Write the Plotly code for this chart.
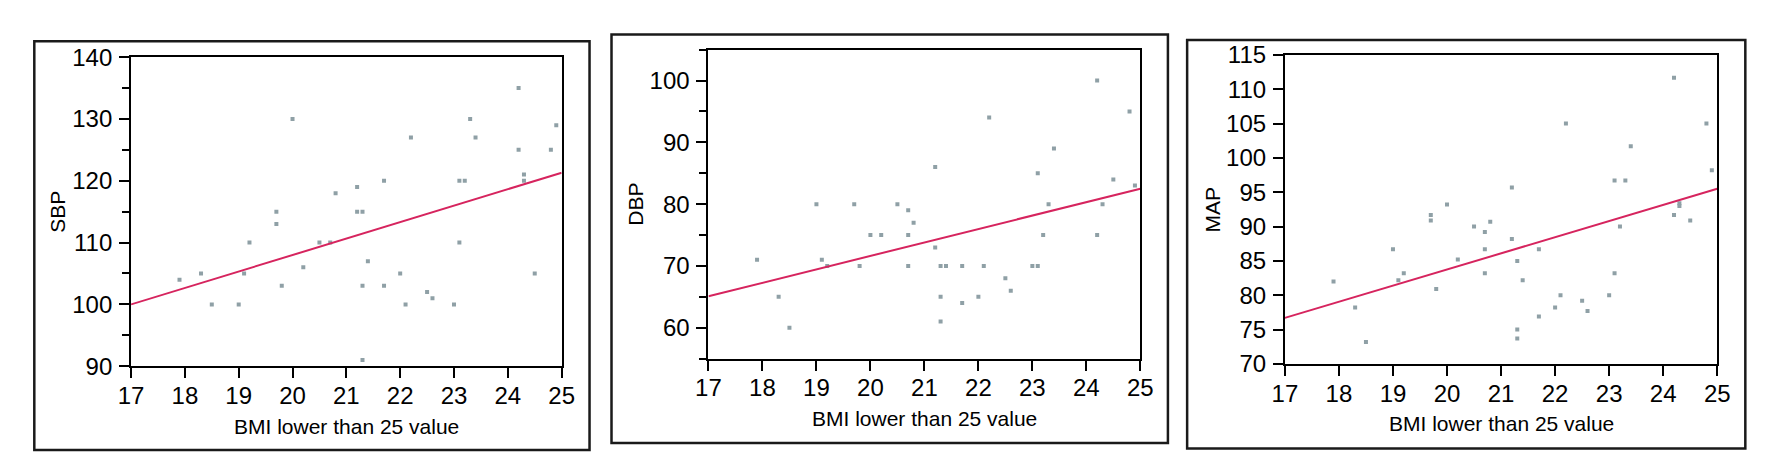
import plotly.graph_objects as go

W, H = 1772, 468

# ---------------- data ----------------
sbp_x = [17.9, 18.3, 18.5, 19.0, 19.1, 19.2, 19.7, 19.7, 19.8, 20.0, 20.2, 20.5, 20.7, 20.8,
         21.2, 21.2, 21.3, 21.3, 21.3, 21.4, 21.7, 21.7, 22.0, 22.1, 22.2, 22.5, 22.6, 23.0,
         23.1, 23.1, 23.2, 23.3, 23.4, 24.2, 24.2, 24.3, 24.3, 24.5, 24.8, 24.9]
sbp_y = [104, 105, 100, 100, 105, 110, 115, 113, 103, 130, 106, 110, 110, 118,
         119, 115, 115, 103, 91, 107, 120, 103, 105, 100, 127, 102, 101, 100,
         120, 110, 120, 130, 127, 135, 125, 121, 120, 105, 125, 129]

dbp_x = [17.9, 18.3, 18.5, 19.0, 19.1, 19.2, 19.7, 19.8, 20.0, 20.2, 20.5, 20.7, 20.7, 20.7,
         20.8, 21.2, 21.2, 21.3, 21.3, 21.3, 21.4, 21.7, 21.7, 22.0, 22.1, 22.2, 22.5, 22.6,
         23.0, 23.1, 23.1, 23.2, 23.3, 23.4, 24.2, 24.2, 24.3, 24.5, 24.8, 24.9]
dbp_y = [71, 65, 60, 80, 71, 70, 80, 70, 75, 75, 80, 79, 75, 70,
         77, 86, 73, 70, 65, 61, 70, 70, 64, 65, 70, 94, 68, 66,
         70, 70, 85, 75, 80, 89, 100, 75, 80, 84, 95, 83]

map_x = [17.9, 18.3, 18.5, 19.0, 19.1, 19.2, 19.7, 19.7, 19.8, 20.0, 20.2, 20.5, 20.7, 20.7,
         20.7, 20.8, 21.2, 21.2, 21.3, 21.3, 21.3, 21.4, 21.7, 21.7, 22.0, 22.1, 22.2, 22.5,
         22.6, 23.0, 23.1, 23.1, 23.2, 23.3, 23.4, 24.2, 24.2, 24.3, 24.3, 24.5, 24.8, 24.9]
map_y = [82, 78.2, 73.2, 86.7, 82.2, 83.2, 91.7, 90.9, 80.9, 93.2, 85.2, 90, 89.2, 86.7,
         83.2, 90.7, 95.7, 88.2, 85, 75, 73.7, 82.2, 86.7, 76.9, 78.2, 80, 105, 79.2,
         77.7, 80, 96.7, 83.2, 90, 96.7, 101.7, 111.7, 91.7, 93.4, 93, 90.9, 105, 98.2]

# fitted regression lines (end points)
fit_x = [17, 25]
sbp_fit = [100.0, 121.3]
dbp_fit = [65.1, 82.5]
map_fit = [76.7, 95.5]

y_titles = ["SBP", "DBP", "MAP"]
x_title = "BMI lower than 25 value"
y_ranges = [[90, 140], [55, 105], [70, 115]]
y_dticks = [10, 10, 5]
y_tick0 = [90, 60, 70]
x_range = [17, 25]

# ---------------- layout geometry (pixels) ----------------
plots = [  # x0, x1, y0(top), y1(bottom)
    (111.7, 548.7, 37.3, 365.3),
    (697.7, 1136.0, 29.3, 357.3),
    (1282.7, 1721.5, 35.0, 362.8),
]
boxes = [
    (13.5, 577.0, 20.3, 454.3),
    (599.3, 1164.0, 13.3, 446.7),
    (1183.5, 1750.0, 19.0, 452.5),
]

FONT = "Liberation Sans, Arial, sans-serif"
PT_COLOR = "#8fa0a6"
LINE_COLOR = "#d6245e"

fig = go.Figure()
series = [(sbp_x, sbp_y, sbp_fit), (dbp_x, dbp_y, dbp_fit), (map_x, map_y, map_fit)]
for i, (xs, ys, fit) in enumerate(series):
    sfx = "" if i == 0 else str(i + 1)
    fig.add_trace(go.Scatter(x=xs, y=ys, mode="markers", xaxis="x" + sfx, yaxis="y" + sfx,
                             marker=dict(symbol="square", size=4, color=PT_COLOR, line=dict(width=0)),
                             showlegend=False, hoverinfo="x+y"))
    fig.add_trace(go.Scatter(x=fit_x, y=fit, mode="lines", xaxis="x" + sfx, yaxis="y" + sfx,
                             line=dict(color=LINE_COLOR, width=2), showlegend=False))

layout = dict(width=W, height=H, margin=dict(l=0, r=0, t=0, b=0),
              paper_bgcolor="white", plot_bgcolor="white",
              font=dict(family=FONT, color="black"))

annotations = []
shapes = []
for i in range(3):
    x0, x1, y0, y1 = plots[i]
    sfx = "" if i == 0 else str(i + 1)
    common = dict(showline=True, linecolor="black", linewidth=2, mirror=True,
                  showgrid=False, zeroline=False, ticks="outside", tickcolor="black",
                  tickwidth=2, ticklen=10, tickfont=dict(size=24, family=FONT, color="black"))
    layout["xaxis" + sfx] = dict(common, domain=[x0 / W, x1 / W], range=x_range, dtick=1, tick0=17,
                                 anchor="y" + sfx, ticklabelstandoff=-3)
    yax = dict(common, domain=[1 - y1 / H, 1 - y0 / H], range=y_ranges[i], dtick=y_dticks[i],
               tick0=y_tick0[i], anchor="x" + sfx, ticklabelstandoff=2)
    if i < 2:
        yax["minor"] = dict(dtick=5, tick0=y_tick0[i], ticks="outside", ticklen=7, tickwidth=2,
                            tickcolor="black", showgrid=False)
    layout["yaxis" + sfx] = yax

    # axis titles
    annotations.append(dict(text=x_title, xref="paper", yref="paper", x=(x0 + x1) / 2 / W,
                            y=1 - (y1 + 63.5) / H, xanchor="center", yanchor="middle",
                            showarrow=False, font=dict(size=21, family=FONT, color="black")))
    annotations.append(dict(text=y_titles[i], xref="paper", yref="paper", x=(x0 - 74) / W,
                            y=1 - (y0 + y1) / 2 / H, xanchor="center", yanchor="middle",
                            textangle=-90, showarrow=False,
                            font=dict(size=21, family=FONT, color="black")))
    bx0, bx1, by0, by1 = boxes[i]
    shapes.append(dict(type="rect", xref="paper", yref="paper", x0=bx0 / W, x1=bx1 / W,
                       y0=1 - by1 / H, y1=1 - by0 / H, line=dict(color="#1a1a1a", width=2.5),
                       fillcolor="rgba(0,0,0,0)", layer="below"))

layout["annotations"] = annotations
layout["shapes"] = shapes
fig.update_layout(**layout)
fig.write_html("out.html")
